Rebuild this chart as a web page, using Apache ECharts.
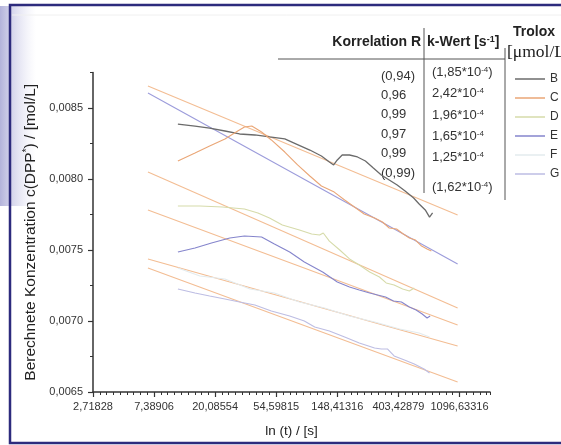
<!DOCTYPE html>
<html><head><meta charset="utf-8">
<script src="https://cdn.jsdelivr.net/npm/echarts/dist/echarts.min.js"></script>
<style>html,body{margin:0;padding:0;background:#fff}#c{width:561px;height:445px}</style>
</head><body><div id="c"></div>
<script>
// x values are ln(t); tick labels show t = e^n
const xTickLabels = ['2,71828','7,38906','20,08554','54,59815','148,41316','403,42879','1096,63316'];
const seriesNames = ['B','C','D','E','F','G'];
const corrR = ['(0,94)','0,96','0,99','0,97','0,99','(0,99)'];
const kWert = ['(1,85*10{s|-4})','2,42*10{s|-4}','1,96*10{s|-4}','1,65*10{s|-4}','1,25*10{s|-4}','(1,62*10{s|-4})'];

const lnB = [2.39,2.67,2.91,3.16,3.40,3.65,3.89,4.14,4.33,4.55,4.74,4.87,4.94,5.00,5.08,5.20,5.33,5.46,5.59,5.72,5.85,5.98,6.11,6.25,6.34,6.44,6.51,6.56];
const cB  = [0.008387,0.008373,0.008359,0.008338,0.008317,0.008310,0.008296,0.008282,0.008246,0.008204,0.008162,0.008120,0.008099,0.008134,0.008169,0.008169,0.008155,0.008127,0.008077,0.008028,0.007993,0.007958,0.007915,0.007866,0.007824,0.007782,0.007732,0.007761];

const lnC = [2.39,2.67,2.91,3.16,3.37,3.48,3.60,3.76,3.92,4.14,4.35,4.55,4.74,4.95,5.12,5.28,5.44,5.61,5.74,5.85,5.97,6.08,6.18,6.28,6.38,6.47,6.54];
const cC  = [0.008127,0.008183,0.008232,0.008282,0.008338,0.008366,0.008373,0.008331,0.008275,0.008190,0.008099,0.008021,0.007951,0.007908,0.007852,0.007803,0.007754,0.007725,0.007697,0.007655,0.007648,0.007613,0.007585,0.007570,0.007528,0.007507,0.007493];

const lnD = [2.39,2.75,3.12,3.48,3.70,3.89,4.10,4.38,4.58,4.71,4.77,4.87,5.04,5.20,5.36,5.53,5.69,5.80,5.93,6.07,6.18,6.26];
const cD  = [0.007810,0.007810,0.007803,0.007789,0.007761,0.007725,0.007676,0.007641,0.007613,0.007606,0.007620,0.007563,0.007500,0.007437,0.007394,0.007345,0.007310,0.007268,0.007254,0.007225,0.007211,0.007232];

const lnE = [2.39,2.67,2.94,3.24,3.48,3.76,3.97,4.22,4.46,4.76,5.00,5.20,5.36,5.53,5.66,5.79,5.92,6.05,6.18,6.29,6.39,6.47,6.52];
const cE  = [0.007486,0.007514,0.007549,0.007585,0.007599,0.007592,0.007542,0.007486,0.007415,0.007345,0.007275,0.007239,0.007218,0.007197,0.007183,0.007169,0.007141,0.007134,0.007099,0.007077,0.007049,0.007021,0.007035];

const lnF = [2.39,2.75,3.16,3.57,3.97,4.38,4.79,5.20,5.61,6.02,6.34,6.51];
const cF  = [0.007373,0.007317,0.007296,0.007225,0.007197,0.007134,0.007092,0.007035,0.006993,0.006944,0.006915,0.006887];

const lnG = [2.39,2.67,2.91,3.16,3.40,3.65,3.92,4.22,4.46,4.63,4.87,5.12,5.36,5.61,5.72,5.82,5.93,6.10,6.26,6.42,6.51];
const cG  = [0.007225,0.007197,0.007176,0.007155,0.007134,0.007113,0.007070,0.007035,0.007000,0.006958,0.006930,0.006887,0.006845,0.006810,0.006803,0.006803,0.006754,0.006725,0.006697,0.006662,0.006634];

// linear fits (start / end)
const fitLn = [1.90, 6.97];
const fitB = [0.008655, 0.007746];
const fitC = [0.008606, 0.007401];
const fitD = [0.008049, 0.007092];
const fitE = [0.007782, 0.006972];
const fitF = [0.007437, 0.006824];
const fitG = [0.007373, 0.006570];

const zip = (a, b) => a.map((v, i) => [v, b[i]]);
const dataColors = ['#6b6b6b','#eaa676','#d6dbaa','#8585cc','#e3ebee','#bdbde3'];
const dataSets = [[lnB,cB],[lnC,cC],[lnD,cD],[lnE,cE],[lnF,cF],[lnG,cG]];
const fits = [fitB, fitC, fitD, fitE, fitF, fitG];
const fitColors = ['#f3bd93','#9c9cdb','#f3bd93','#f3bd93','#f3bd93','#f3bd93'];

const FONT = '"Liberation Sans", Arial, sans-serif';
const series = [];
fits.forEach((f, i) => series.push({
  name: 'Fit ' + seriesNames[i], type: 'line', data: zip(fitLn, f), showSymbol: false, symbol: 'none',
  lineStyle: { color: fitColors[i], width: 1.1 }, itemStyle: { color: fitColors[i] }, z: 2, silent: true
}));
dataSets.forEach((d, i) => series.push({
  name: seriesNames[i], type: 'line', data: zip(d[0], d[1]), showSymbol: false, symbol: 'none',
  lineStyle: { color: dataColors[i], width: i === 0 ? 1.3 : 1.1 }, itemStyle: { color: dataColors[i] }, z: 3
}));

const graphic = [
  { type: 'rect', shape: { x: 0, y: 6, width: 36, height: 200 }, z: -1,
    style: { fill: new echarts.graphic.LinearGradient(0, 0, 1, 0, [
      { offset: 0, color: 'rgba(165,165,212,0.85)' }, { offset: 1, color: 'rgba(215,215,238,0)' }]) } },
  { type: 'line', shape: { x1: 12, y1: 15, x2: 561, y2: 15 }, style: { stroke: '#f0f0f0', lineWidth: 1 } },
  { type: 'rect', shape: { x: 10, y: 5, width: 580, height: 438 }, z: 50,
    style: { fill: 'none', stroke: '#2d2b7d', lineWidth: 2.5 } },
  { type: 'line', shape: { x1: 278, y1: 59, x2: 505, y2: 59 }, style: { stroke: '#555', lineWidth: 1 } },
  { type: 'line', shape: { x1: 424, y1: 28, x2: 424, y2: 193 }, style: { stroke: '#555', lineWidth: 1 } },
  { type: 'line', shape: { x1: 505, y1: 48, x2: 505, y2: 200 }, style: { stroke: '#555', lineWidth: 1 } },
  { type: 'text', x: 421, y: 42, style: { text: 'Korrelation R', fontSize: 14, fontWeight: 'bold', fontFamily: FONT, fill: '#222', align: 'right', verticalAlign: 'middle' } },
  { type: 'text', x: 427, y: 42, style: { text: 'k-Wert [s{s|-1}]', fontSize: 14, fontWeight: 'bold', fontFamily: FONT, fill: '#222', align: 'left', verticalAlign: 'middle',
      rich: { s: { fontSize: 9, fontWeight: 'bold', fontFamily: FONT, verticalAlign: 'top', fill: '#222' } } } },
  { type: 'text', x: 513, y: 32, style: { text: 'Trolox', fontSize: 14, fontWeight: 'bold', fontFamily: FONT, fill: '#222', align: 'left', verticalAlign: 'middle' } },
  { type: 'text', x: 507, y: 52, style: { text: '[\u03bcmol/L]', fontSize: 17.5, fontFamily: '"Liberation Serif", serif', fill: '#222', align: 'left', verticalAlign: 'middle' } }
];
const rY = [76, 95, 114, 134, 153, 173];
const kY = [72, 93, 115, 136, 157, 187];
corrR.forEach((t, i) => graphic.push({ type: 'text', x: 381, y: rY[i],
  style: { text: t, fontSize: 13, fontFamily: FONT, fill: '#333', align: 'left', verticalAlign: 'middle' } }));
kWert.forEach((t, i) => graphic.push({ type: 'text', x: 432, y: kY[i],
  style: { text: t, fontSize: 13, fontFamily: FONT, fill: '#333', align: 'left', verticalAlign: 'middle',
    rich: { s: { fontSize: 8, fontFamily: FONT, verticalAlign: 'top', fill: '#333' } } } }));

const chart = echarts.init(document.getElementById('c'), null, { renderer: 'canvas' });
const axisCol = '#333';
chart.setOption({
  animation: false,
  backgroundColor: '#fff',
  grid: { left: 93, right: 71, top: 72.5, bottom: 53 },
  legend: {
    data: seriesNames, orient: 'vertical', left: 510, top: 67, icon: 'rect',
    itemWidth: 30, itemHeight: 1.5, itemGap: 5, selectedMode: false,
    textStyle: { fontSize: 12, lineHeight: 14, color: '#333', fontFamily: FONT }
  },
  xAxis: [{
    type: 'value', min: 1, max: 7.5, interval: 1,
    name: 'ln (t) / [s]', nameLocation: 'middle', nameGap: 32,
    nameTextStyle: { fontSize: 13.5, color: '#222', fontFamily: FONT },
    axisLine: { lineStyle: { color: axisCol, width: 1.5 } },
    axisTick: { length: 5, lineStyle: { color: axisCol, width: 1.2 } },
    axisLabel: { showMaxLabel: false, margin: 9, fontSize: 11, color: '#333', fontFamily: FONT,
      formatter: v => { const r = Math.round(v); return Math.abs(v - r) < 1e-6 ? (xTickLabels[r - 1] || '') : ''; } },
    splitLine: { show: false }
  }, {
    type: 'value', min: 1, max: 7.5, interval: 1 / 9, position: 'bottom',
    axisLine: { show: false }, axisLabel: { show: false }, splitLine: { show: false },
    axisTick: { length: 3, lineStyle: { color: axisCol, width: 1 } }
  }],
  yAxis: [{
    type: 'value', min: 0.0065, max: 0.00875, interval: 0.0005,
    name: 'Berechnete Konzentration c(DPP{s|*}) / [mol/L]', nameLocation: 'middle', nameGap: 53,
    nameTextStyle: { fontSize: 15.5, color: '#222', fontFamily: FONT,
      rich: { s: { fontSize: 10, fontFamily: FONT, color: '#222', verticalAlign: 'top' } } },
    axisLine: { lineStyle: { color: axisCol, width: 1.5 } },
    axisTick: { length: 5, lineStyle: { color: axisCol, width: 1.2 } },
    axisLabel: { showMaxLabel: false, margin: 10, fontSize: 11, color: '#333', fontFamily: FONT,
      formatter: v => v.toFixed(4).replace('.', ',') },
    splitLine: { show: false }
  }, {
    type: 'value', min: 0.0065, max: 0.00875, interval: 0.00025, position: 'left',
    axisLine: { show: false }, axisLabel: { show: false }, splitLine: { show: false },
    axisTick: { length: 3, lineStyle: { color: axisCol, width: 1 } }
  }],
  series: series,
  graphic: graphic
});
</script></body></html>
